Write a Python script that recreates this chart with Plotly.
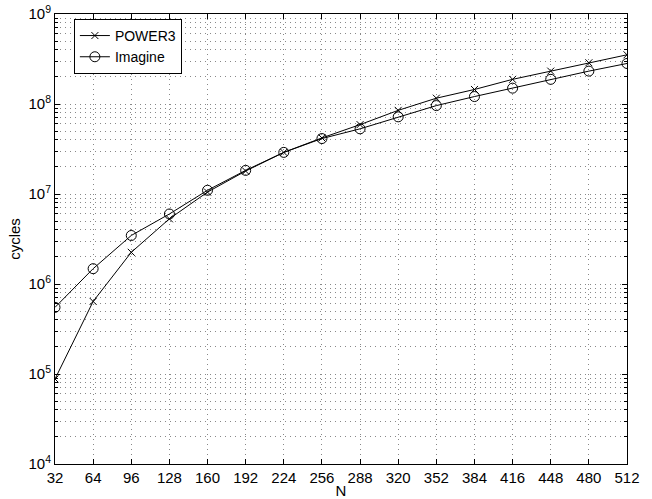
import plotly.graph_objects as go

N = [32, 64, 96, 128, 160, 192, 224, 256, 288, 320, 352, 384, 416, 448, 480, 512]
power3 = [8.8e4, 6.4e5, 2.25e6, 5.3e6, 1.05e7, 1.8e7, 2.9e7, 4.2e7, 5.9e7, 8.5e7,
          1.16e8, 1.45e8, 1.88e8, 2.32e8, 2.87e8, 3.52e8]
imagine = [5.5e5, 1.48e6, 3.46e6, 6.0e6, 1.1e7, 1.83e7, 2.9e7, 4.13e7, 5.3e7, 7.2e7,
           9.6e7, 1.21e8, 1.5e8, 1.88e8, 2.32e8, 2.82e8]
ytickvals = [1e4, 1e5, 1e6, 1e7, 1e8, 1e9]
yticktext = ["10<sup>%d</sup>" % e for e in range(4, 10)]

font = "Liberation Sans, Arial, sans-serif"
gridc = "#888"
gdash = "1px,4px"
fig = go.Figure()
fig.add_trace(go.Scatter(x=N, y=power3, name="POWER3", mode="lines+markers",
                         line=dict(color="black", width=1),
                         marker=dict(symbol="x-thin", size=7, line=dict(color="black", width=1))))
fig.add_trace(go.Scatter(x=N, y=imagine, name="Imagine", mode="lines+markers",
                         line=dict(color="black", width=1),
                         marker=dict(symbol="circle-open", size=10, color="black",
                                     line=dict(color="black", width=1))))

fig.update_layout(
    width=652, height=499, autosize=False,
    margin=dict(l=55, r=25, t=14, b=35, pad=0),
    paper_bgcolor="white", plot_bgcolor="white",
    font=dict(family=font, size=15, color="black"),
    showlegend=True,
    legend=dict(x=0.033, y=0.989, xanchor="left", yanchor="top",
                bordercolor="black", borderwidth=1, bgcolor="white",
                font=dict(size=14), tracegroupgap=0, itemwidth=30),
)
fig.update_xaxes(
    range=[32, 512], tickvals=N, ticks="inside", ticklen=5, tickcolor="black",
    showline=True, linecolor="black", linewidth=1, mirror="allticks",
    showgrid=True, gridcolor=gridc, griddash=gdash, gridwidth=1, zeroline=False,
    tickfont=dict(size=15), automargin=False,
    title=dict(text="N", standoff=0, font=dict(size=15)),
)
fig.update_yaxes(
    type="log", range=[4, 9], tickvals=ytickvals, ticktext=yticktext,
    ticks="inside", ticklen=5, tickcolor="black",
    showline=True, linecolor="black", linewidth=1, mirror="allticks",
    showgrid=True, gridcolor=gridc, griddash=gdash, gridwidth=1, zeroline=False,
    tickfont=dict(size=15), automargin=False,
    minor=dict(dtick="D1", ticks="inside", ticklen=3, tickcolor="black",
               showgrid=True, gridcolor=gridc, griddash=gdash, gridwidth=1),
    title=dict(text="cycles", standoff=4, font=dict(size=15)),
)
fig.write_html("out.html", config={"displayModeBar": False},
               post_script="document.body.style.margin='0px';document.body.style.overflow='hidden';")
